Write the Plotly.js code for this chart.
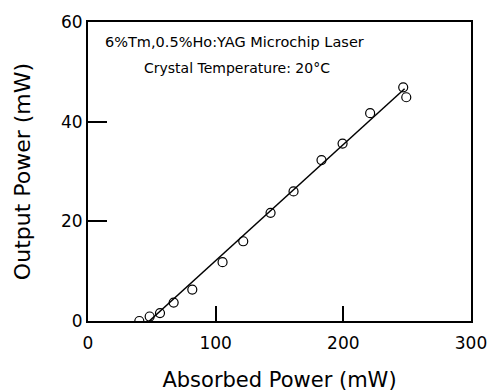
<!DOCTYPE html>
<html>
<head>
<meta charset="utf-8">
<script src="https://cdn.plot.ly/plotly-3.0.1.min.js"></script>
<style>html,body{margin:0;padding:0;background:#fff;}</style>
</head>
<body>
<div id="chart" style="width:489px;height:392px;"></div>
<script>
// Measured data points (absorbed power mW, output power mW)
var absorbedPower = [40.2, 48.3, 56.4, 67.1, 81.7, 105.4, 121.6, 143.0, 161.0, 182.9, 199.4, 221.0, 246.9, 249.3];
var outputPower   = [0.0, 0.9, 1.6, 3.7, 6.3, 11.8, 16.0, 21.7, 26.0, 32.3, 35.6, 41.7, 46.9, 44.9];
// Linear fit line endpoints
var fitX = [48, 248];
var fitY = [0, 46.6];
var xTicks = [0, 100, 200, 300];
var yTicks = [0, 20, 40, 60];
var label1 = "6%Tm,0.5%Ho:YAG Microchip Laser";
var label2 = "Crystal Temperature: 20°C";

var font = "DejaVu Sans, Arial, sans-serif";

var traces = [
  {x: fitX, y: fitY, type: 'scatter', mode: 'lines',
   line: {color: '#000', width: 1.5}, showlegend: false, hoverinfo: 'skip'},
  {x: absorbedPower, y: outputPower, type: 'scatter', mode: 'markers',
   marker: {symbol: 'circle-open', size: 9, color: '#000', line: {width: 1.2, color: '#000'}},
   showlegend: false}
];

var layout = {
  width: 489, height: 392,
  margin: {l: 88, r: 18, t: 22, b: 71},
  paper_bgcolor: '#fff', plot_bgcolor: '#fff',
  font: {family: font, color: '#000'},
  xaxis: {
    range: [0, 300], tickvals: xTicks, ticktext: xTicks.map(String),
    ticks: 'inside', ticklen: 15, tickwidth: 2, tickcolor: '#000',
    showline: true, linewidth: 2, linecolor: '#000', mirror: true,
    showgrid: false, zeroline: false, ticklabelstandoff: 6,
    tickfont: {size: 17, family: font},
    title: {text: 'Absorbed Power (mW)', font: {size: 21, family: font}, standoff: 23}
  },
  yaxis: {
    range: [0, 60], tickvals: yTicks, ticktext: yTicks.map(String),
    ticks: 'inside', ticklen: 19, tickwidth: 2, tickcolor: '#000',
    showline: true, linewidth: 2, linecolor: '#000', mirror: true,
    showgrid: false, zeroline: false,
    tickfont: {size: 17, family: font},
    title: {text: 'Output Power (mW)', font: {size: 22, family: font}, standoff: 24}
  },
  annotations: [
    {x: 12, y: 56, xref: 'x', yref: 'y', text: label1, showarrow: false,
     xanchor: 'left', yanchor: 'middle', font: {size: 14.5, family: font}},
    {x: 42.5, y: 50.7, xref: 'x', yref: 'y', text: label2, showarrow: false,
     xanchor: 'left', yanchor: 'middle', font: {size: 14, family: font}}
  ]
};

Plotly.newPlot('chart', traces, layout, {displayModeBar: false, staticPlot: true});
</script>
</body>
</html>
